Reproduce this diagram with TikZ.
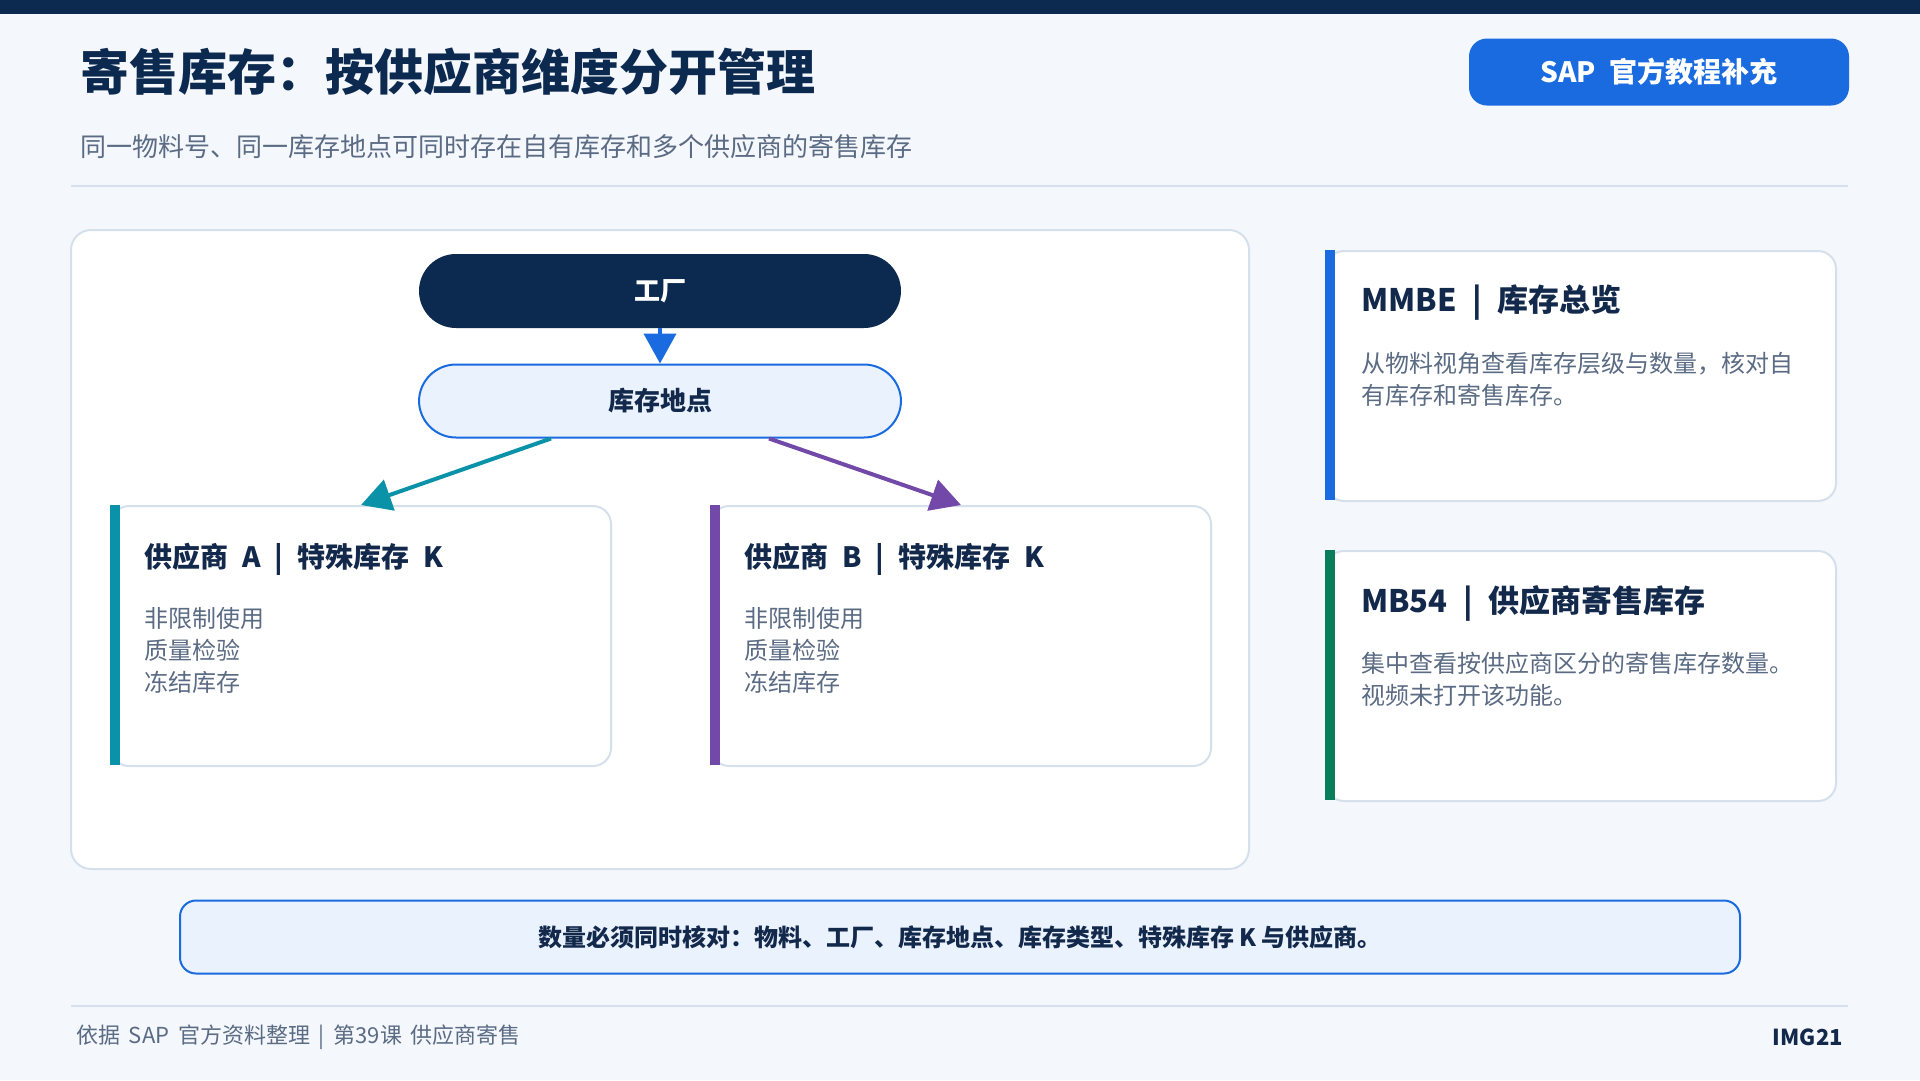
\documentclass[tikz,border=0pt]{standalone}
\usepackage{fontspec}
\setmainfont{Noto Sans CJK SC}
\usetikzlibrary{arrows.meta}
\usetikzlibrary{positioning}
\definecolor{navy}{HTML}{0C2A4F}
\definecolor{ink}{HTML}{13294B}
\definecolor{slate}{HTML}{5A6B83}
\definecolor{pagebg}{HTML}{F4F7FC}
\definecolor{edge}{HTML}{D6E0EC}
\definecolor{bluemain}{HTML}{1A6BDF}
\definecolor{bluesoft}{HTML}{EAF2FE}
\definecolor{tealline}{HTML}{0A92A8}
\definecolor{purpleline}{HTML}{7249A8}
\definecolor{greenline}{HTML}{0A7D5A}
\newcommand{\pxfont}[2]{\fontsize{#1}{#2}\selectfont}
\newcommand{\gap}{\hspace{0.5em}}

\begin{document}
\begin{tikzpicture}[x=1pt,y=-1pt,
    >={Triangle[length=30pt,width=32pt]},
    panel/.style={draw=edge,line width=2pt,fill=white,rounded corners=20pt},
    card/.style={draw=edge,line width=2pt,fill=white,rounded corners=18pt,inner sep=0pt,anchor=north west},
    pill/.style={rounded corners=37pt,minimum width=482pt,minimum height=74pt,inner sep=0pt,font=\pxfont{26}{30}\bfseries},
    cardtitle/.style={anchor=west,inner sep=0pt,text=ink,font=\pxfont{28}{34}\bfseries},
    sidetitle/.style={anchor=west,inner sep=0pt,text=ink,font=\pxfont{31}{36}\bfseries},
    itemtext/.style={anchor=west,inner sep=0pt,align=left,text=slate,font=\pxfont{24}{32}},
    flow/.style={->,line width=4pt}]
  \useasboundingbox (0,0) rectangle (1920,1080);
  \fill[pagebg] (0,0) rectangle (1920,1080);
  \fill[navy] (0,0) rectangle (1920,14);

  % header
  \node[anchor=west,inner sep=0pt,text=navy,font=\pxfont{49}{56}\bfseries] (title) at (80,72) {寄售库存：按供应商维度分开管理};
  \node[anchor=west,inner sep=0pt,text=slate,font=\pxfont{26}{30}] (subtitle) at (80,147) {同一物料号、同一库存地点可同时存在自有库存和多个供应商的寄售库存};
  \node[fill=bluemain,rounded corners=18pt,minimum width=380pt,minimum height=67pt,inner sep=0pt,text=white,font=\pxfont{28}{32}\bfseries] (sap) at (1659,72) {SAP\gap 官方教程补充};
  \draw[edge,line width=2pt] (71,186) -- (1848,186);

  % main panel
  \draw[panel] (71,230) rectangle (1249,869);
  \node[pill,fill=navy,text=white] (plant) at (660,291) {工厂};
  \node[pill,fill=bluesoft,draw=bluemain,line width=2pt,text=ink,minimum height=73pt] (loc) at (660,401) {库存地点};

  \node[card,minimum width=500pt,minimum height=260pt] (cardA) at (110,505) {};
  \fill[tealline] (cardA.north west) rectangle ++(10,260);
  \node[cardtitle] (titleA) at (144,559) {供应商\gap A\gap |\gap 特殊库存\gap K};
  \node[itemtext] (itemsA) at (144,650) {非限制使用\\质量检验\\冻结库存};

  \node[card,minimum width=500pt,minimum height=260pt] (cardB) at (710,505) {};
  \fill[purpleline] (cardB.north west) rectangle ++(10,260);
  \node[cardtitle] (titleB) at (744,559) {供应商\gap B\gap |\gap 特殊库存\gap K};
  \node[itemtext] (itemsB) at (744,650) {非限制使用\\质量检验\\冻结库存};

  \draw[flow,bluemain] (plant.south) -- (loc.north);
  \draw[flow,tealline] ([xshift=-109pt]loc.south) -- (cardA.north);
  \draw[flow,purpleline] ([xshift=109pt]loc.south) -- (cardB.north);

  % transaction cards
  \node[card,minimum width=510pt,minimum height=250pt] (mmbe) at (1325,250) {};
  \fill[bluemain] (mmbe.north west) rectangle ++(10,250);
  \node[sidetitle] (mmbeTitle) at (1361,303) {MMBE\gap |\gap 库存总览};
  \node[itemtext] (mmbeText) at (1361,379) {从物料视角查看库存层级与数量，核对自\\有库存和寄售库存。};

  \node[card,minimum width=510pt,minimum height=250pt] (mb54) at (1325,550) {};
  \fill[greenline] (mb54.north west) rectangle ++(10,250);
  \node[sidetitle] (mb54Title) at (1361,603) {MB54\gap |\gap 供应商寄售库存};
  \node[itemtext] (mb54Text) at (1361,679) {集中查看按供应商区分的寄售库存数量。\\视频未打开该功能。};

  % note and footer
  \node[fill=bluesoft,draw=bluemain,line width=2pt,rounded corners=16pt,minimum width=1560pt,minimum height=73pt,inner sep=0pt,text=ink,font=\pxfont{24}{28}\bfseries] (note) at (960,937) {数量必须同时核对：物料、工厂、库存地点、库存类型、特殊库存 K 与供应商。};
  \draw[edge,line width=2pt] (71,1006) -- (1848,1006);
  \node[anchor=west,inner sep=0pt,text=slate,font=\pxfont{22}{26}] (source) at (76,1037) {依据\hspace{0.4em}SAP\hspace{0.4em}官方资料整理\hspace{0.4em}|\hspace{0.4em}第39课\hspace{0.4em}供应商寄售};
  \node[anchor=east,inner sep=0pt,text=ink,font=\pxfont{22}{26}\bfseries] (imgid) at (1843,1037) {IMG21};
\end{tikzpicture}
\end{document}
